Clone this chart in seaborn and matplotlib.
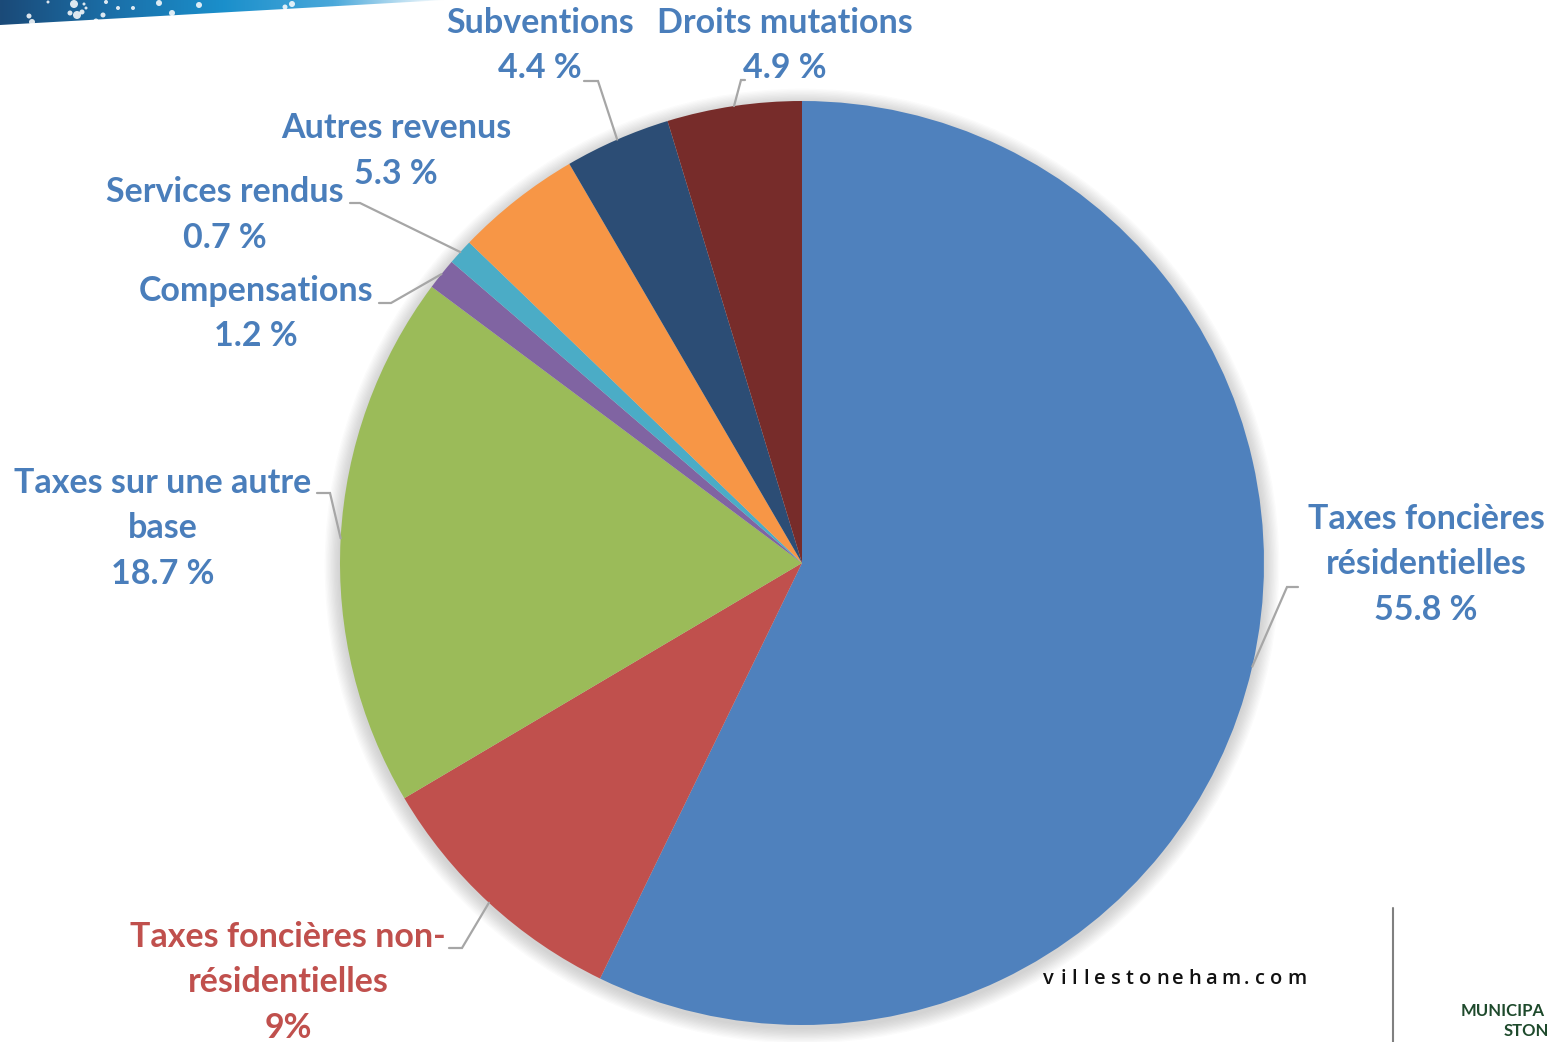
import numpy as np
import matplotlib
matplotlib.use("Agg")
import matplotlib.pyplot as plt
import seaborn as sns
from matplotlib.patches import Circle, Polygon
from matplotlib.textpath import TextPath
from matplotlib.font_manager import FontProperties

# slice shares as drawn, clockwise from 12 o'clock
categories = ["Taxes foncières résidentielles", "Taxes foncières non-résidentielles",
              "Taxes sur une autre base", "Compensations", "Services rendus",
              "Autres revenus", "Subventions", "Droits mutations"]
shares = [57.2, 9.3, 18.7, 1.1, 0.9, 4.4, 3.7, 4.7]
label_names = ["Taxes foncières\nrésidentielles", "Taxes foncières non-\nrésidentielles",
               "Taxes sur une autre\nbase", "Compensations", "Services rendus",
               "Autres revenus", "Subventions", "Droits mutations"]
label_pcts = ["55.8 %", "9%", "18.7 %", "1.2 %", "0.7 %", "5.3 %", "4.4 %", "4.9 %"]
slice_colors = ["#4F81BD", "#C0504D", "#9BBB59", "#8064A2", "#4BACC6",
                "#F79646", "#2C4D75", "#772C2A"]
text_colors = ["#4A7EBB", "#C0504D", "#4A7EBB", "#4A7EBB", "#4A7EBB",
               "#4A7EBB", "#4A7EBB", "#4A7EBB"]

W, H = 1548, 1042

sns.set_style("white")
plt.rcParams['font.family'] = ['Lato', 'DejaVu Sans']

def Y(py):
    # pixel row -> data y (axis points up)
    return H - py

fig = plt.figure(figsize=(W / 100, H / 100), dpi=100)
ax = fig.add_axes([0, 0, 1, 1])

cx, cy, R = 802, Y(563), 462

# soft shadow round the pie
for k in range(12):
    ax.add_patch(Circle((cx, cy - 3), R + 1 + k * 1.3, color="#606060",
                        alpha=0.022, lw=0, zorder=0))

wedges, _ = ax.pie(shares, colors=sns.color_palette(slice_colors), startangle=90,
                   counterclock=False, center=(cx, cy), radius=R,
                   wedgeprops=dict(linewidth=0))
for w in wedges:
    w.set_zorder(2)

# label block: (center x, pixel y of first line); leader: (start x, elbow x, pixel y) or None
label_pos = [(1426, 519), (288, 937), (163, 483), (256, 291), (225, 192),
             (396, 128), (540, 23), (785, 23)]
leaders = [(1298, 1287, 587), (449, 462, 948), (317, 330, 493), (379, 391, 303),
           (350, 360, 203), None, (584, 598, 81), (745, 741, 80)]
line_step = 45.5

for i, w in enumerate(wedges):
    lines = label_names[i].split("\n") + [label_pcts[i]]
    x0, y0 = label_pos[i]
    for j, txt in enumerate(lines):
        ax.text(x0, Y(y0 + j * line_step), txt, ha="center", va="center",
                fontsize=24.5, fontweight="bold", color=text_colors[i], zorder=5)
    if leaders[i] is not None:
        sx, ex, ly = leaders[i]
        mid = np.deg2rad((w.theta1 + w.theta2) / 2)
        px, py = cx + R * np.cos(mid), cy + R * np.sin(mid)
        ax.plot([sx, ex, px], [Y(ly), Y(ly), py], color="#A6A6A6", lw=1.6,
                zorder=4, solid_joinstyle="miter")

# banner in the top-left corner
grad = np.linspace(0, 1, 256)[None, :]
cmap = matplotlib.colors.LinearSegmentedColormap.from_list(
    "band", ["#1B4A78", "#1A6FA8", "#1A8FCB", "#4AA8DA", "#FFFFFF"])
band = Polygon([(0, Y(0)), (445, Y(0)), (0, Y(25))], closed=True,
               facecolor="none", edgecolor="none")
ax.add_patch(band)
im = ax.imshow(grad, cmap=cmap, extent=(0, 445, Y(26), Y(0)), aspect="auto", zorder=1)
im.set_clip_path(band)
dots = [(74, 4, 4), (77, 15, 4), (82, 12, 2.5), (70, 13, 2.5), (96, 21, 2.5),
        (29, 16, 2.5), (32, 22, 3), (103, 15, 2.5), (118, 8, 2), (133, 8, 2),
        (159, 3, 3), (172, 13, 3), (199, 5, 3), (285, 7, 2.5), (292, 4, 3),
        (106, 2, 2), (48, 2, 1.5), (84, 4, 1.5), (86, 8, 1.5)]
for dx, dy, dr in dots:
    ax.add_patch(Circle((dx, Y(dy)), dr, color="white", alpha=0.85, lw=0, zorder=1.5))

# footer: site name, divider, logo text
fp = FontProperties(family="Open Sans", size=20)
xpos = 1043
for ch in "villestoneham.com":
    ax.text(xpos, Y(979), ch, ha="left", va="center", fontsize=14.5,
            family="Open Sans", fontweight="semibold", color="#111111", zorder=3)
    ext = TextPath((0, 0), ch, size=20, prop=fp).get_extents()
    xpos += max(ext.width, 4) + 7.3
ax.plot([1393, 1393], [Y(908), 0], color="#808080", lw=1.5, zorder=3)
ax.text(1461, Y(1011), "MUNICIPA", ha="left", va="center", fontsize=12,
        fontweight="bold", color="#1E4A2C", zorder=3)
ax.text(1504, Y(1031), "STON", ha="left", va="center", fontsize=12,
        fontweight="bold", color="#1E4A2C", zorder=3)

ax.set_xlim(0, W)
ax.set_ylim(0, H)
ax.set_aspect("auto")
ax.axis("off")

fig.savefig("out.png", dpi=100, facecolor="white")
